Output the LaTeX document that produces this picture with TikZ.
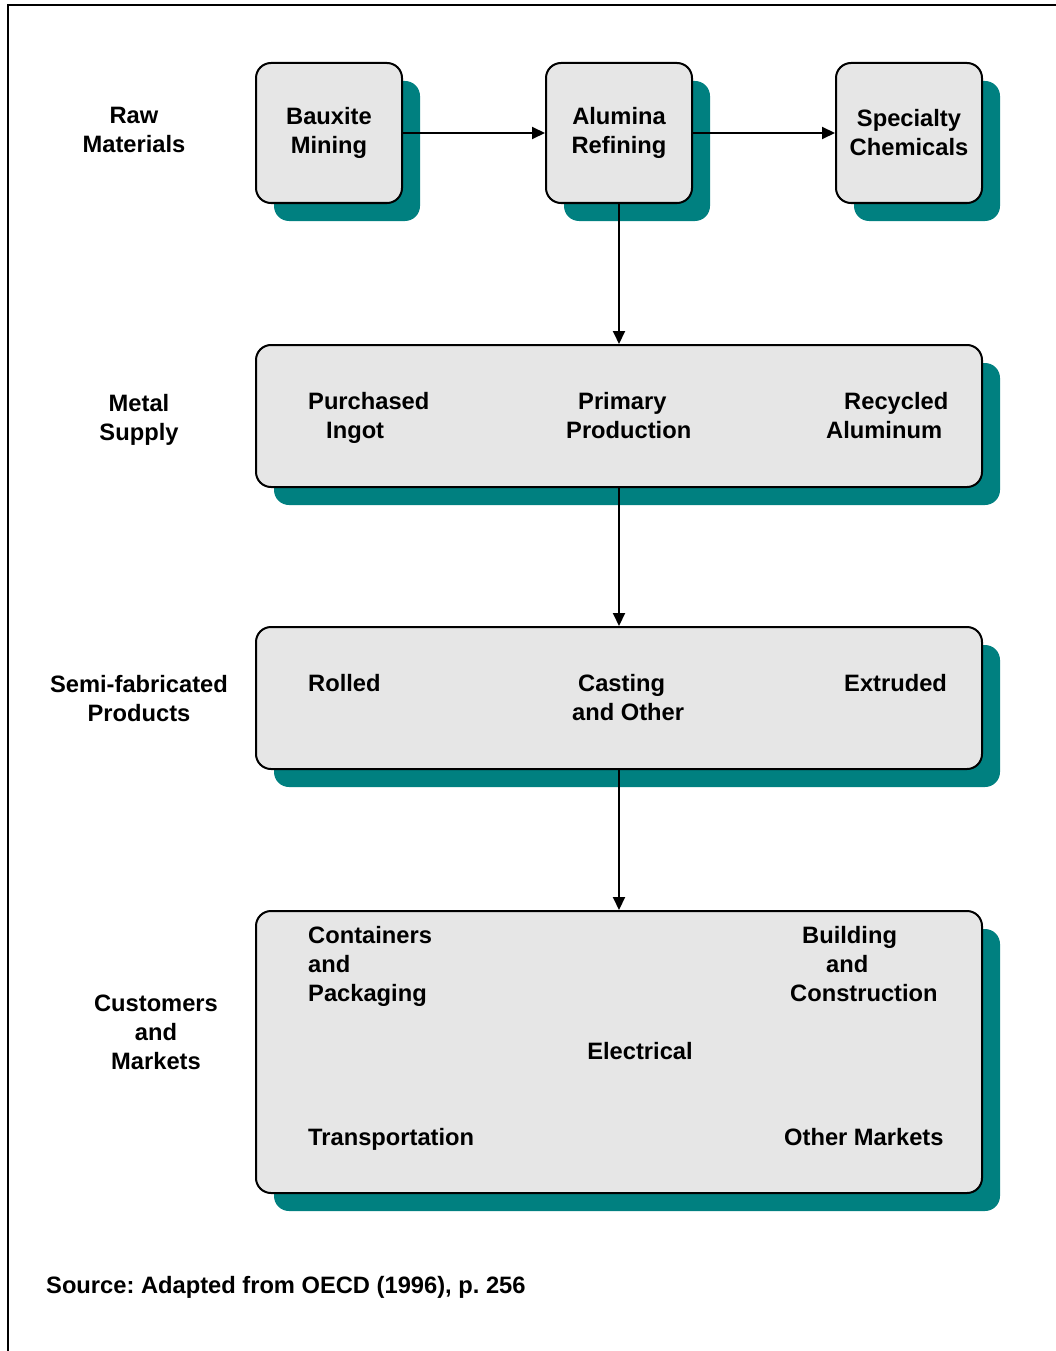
\documentclass[tikz,border=0pt]{standalone}
\usepackage{fontspec}
\setmainfont{Liberation Sans}
\usetikzlibrary{arrows.meta,shadows}
\definecolor{boxgray}{HTML}{E6E6E6}
\definecolor{tealc}{HTML}{008080}
\frenchspacing
\begin{document}
\begin{tikzpicture}[x=1pt,y=-1pt,
  lbl/.style={font=\bfseries\fontsize{23.7}{29}\selectfont, align=center, inner sep=0pt},
  lbll/.style={lbl, align=left, anchor=west},
  box/.style={draw=black, line width=2pt, fill=boxgray, rounded corners=15pt,
    drop shadow={shadow xshift=18pt, shadow yshift=-18pt, fill=tealc, opacity=1},
    font=\bfseries\fontsize{23.7}{29}\selectfont, align=center, inner sep=0pt},
  arr/.style={line width=2pt, -{Triangle[width=12pt,length=13pt]}}]
\useasboundingbox (0,0) rectangle (1056,1351);
% outer frame
\draw[line width=2pt] (8,1360) -- (8,5) -- (1070,5);
% boxes
\node[box, minimum width=146pt, minimum height=140pt] (baux) at (329,133) {Bauxite\\Mining};
\node[box, minimum width=146pt, minimum height=140pt] (alum) at (619,133) {Alumina\\Refining};
\node[box, minimum width=146pt, minimum height=140pt] (spec) at (909,133) {Specialty\\Chemicals};
\node[box, minimum width=726pt, minimum height=142pt] (metal) at (619,416) {};
\node[box, minimum width=726pt, minimum height=142pt] (semi) at (619,698) {};
\node[box, minimum width=726pt, minimum height=282pt] (cust) at (619,1052) {};
% row labels
\node[lbl] (rawl) at (134,129.5) {Raw\\Materials};
\node[lbl] (metall) at (139,419.5) {Metal\\Supply};
\node[lbl] (semil) at (139,699) {Semi-fabricated\\Products};
\node[lbl] (custl) at (156,1032) {Customers\\and\\Markets};
% metal supply contents
\node[lbll] (purch) at (308,417.5) {Purchased\\\hspace*{18pt}Ingot};
\node[lbll] (prim) at (566,416) {\hspace*{12pt}Primary\\Production};
\node[lbll] (recyc) at (826,415.5) {\hspace*{18pt}Recycled\\Aluminum};
% semi-fabricated contents
\node[lbll] (rolled) at (308,683) {Rolled};
\node[lbll] (cast) at (572,697.5) {\hspace*{6pt}Casting\\and Other};
\node[lbll] (extr) at (844,683) {Extruded};
% customers contents
\node[lbll] (cont) at (308,966) {Containers\\and\\Packaging};
\node[lbll] (build) at (790,964) {\hspace*{12pt}Building\\\hspace*{36pt}and\\Construction};
\node[lbl] (elec) at (640,1051) {Electrical};
\node[lbll] (trans) at (308,1139) {Transportation};
\node[lbll] (other) at (784,1137) {Other Markets};
% source
\node[lbll] (src) at (46,1287) {Source: Adapted from OECD (1996), p. 256};
% connectors
\draw[arr] (baux.east) -- (alum.west);
\draw[arr] (alum.east) -- (spec.west);
\draw[arr] (alum.south) -- (metal.north);
\draw[arr] (metal.south) -- (semi.north);
\draw[arr] (semi.south) -- (cust.north);
\end{tikzpicture}
\end{document}
